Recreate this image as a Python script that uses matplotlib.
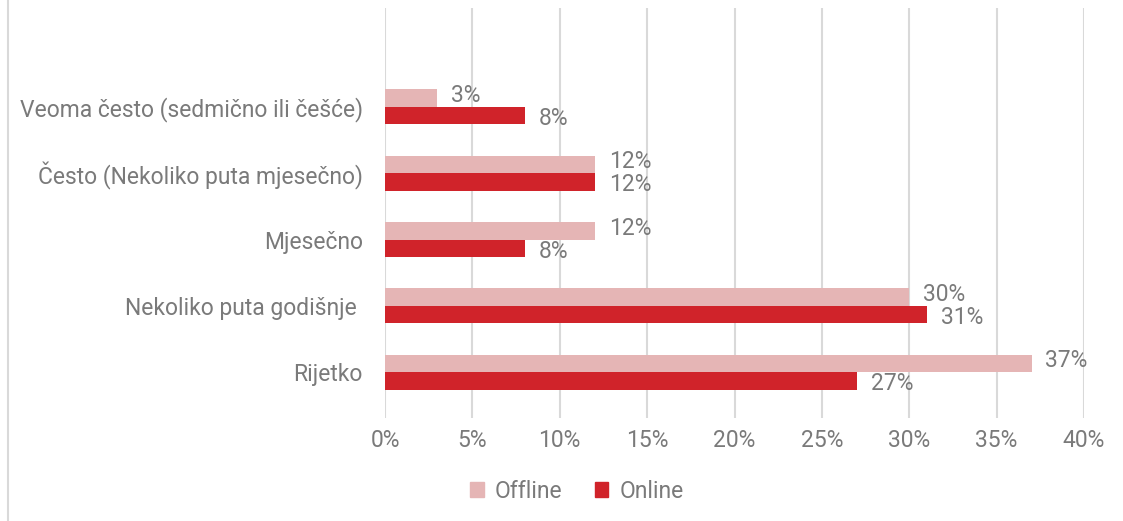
import matplotlib
matplotlib.use("Agg")
import matplotlib.pyplot as plt
from matplotlib.patches import Patch

# Učestalost kupovine: offline vs online
categories = [
    "Veoma često (sedmično ili češće)",
    "Često (Nekoliko puta mjesečno)",
    "Mjesečno",
    "Nekoliko puta godišnje ",
    "Rijetko",
]
offline = [3, 12, 12, 30, 37]
online = [8, 12, 8, 31, 27]
xticks = [0, 5, 10, 15, 20, 25, 30, 35, 40]

OFFLINE_COLOR = "#e5b5b5"
ONLINE_COLOR = "#d0232a"
TEXT_COLOR = "#7a7a7a"
GRID_COLOR = "#d9d9d9"
FS = 16.5

plt.rcParams["font.family"] = ["Roboto", "DejaVu Sans"]

fig = plt.figure(figsize=(11.23, 5.21), dpi=100)
ax = fig.add_axes([385 / 1123, 1 - 418 / 521, (1084 - 385) / 1123, 410 / 521])

bar_h = 0.264
ys = list(range(len(categories)))
ax.barh([y - bar_h / 2 for y in ys], offline, height=bar_h, color=OFFLINE_COLOR, zorder=2)
ax.barh([y + bar_h / 2 for y in ys], online, height=bar_h, color=ONLINE_COLOR, zorder=2)

for y, v in zip(ys, offline):
    ax.annotate(f"{v}%", (v, y - bar_h / 2), xytext=(10, 2), textcoords="offset points",
                va="center", ha="left", fontsize=FS, color=TEXT_COLOR)
for y, v in zip(ys, online):
    ax.annotate(f"{v}%", (v, y + bar_h / 2), xytext=(10, -2), textcoords="offset points",
                va="center", ha="left", fontsize=FS, color=TEXT_COLOR)

ax.set_xlim(0, 40)
ax.set_ylim(4.69, -1.49)
ax.set_xticks(xticks)
ax.set_xticklabels([f"{t}%" for t in xticks])
ax.set_yticks(ys)
ax.set_yticklabels(categories)
ax.tick_params(axis="both", length=0, labelsize=FS, labelcolor=TEXT_COLOR)
ax.tick_params(axis="y", pad=16)
ax.tick_params(axis="x", pad=8)
ax.grid(axis="x", color=GRID_COLOR, linewidth=1.5, zorder=0)
ax.set_axisbelow(True)
for s in ax.spines.values():
    s.set_visible(False)

# tanki okvir lijevo
fig.add_artist(plt.Line2D([7.5 / 1123, 7.5 / 1123], [0, 1], transform=fig.transFigure,
                          color="#d9d9d9", linewidth=1.5))

handles = [Patch(color=OFFLINE_COLOR, label="Offline"), Patch(color=ONLINE_COLOR, label="Online")]
leg = fig.legend(handles=handles, loc="center", bbox_to_anchor=(577 / 1123, 1 - 491 / 521),
                 ncol=2, frameon=False, fontsize=FS, handlelength=0.6, handleheight=0.6,
                 handletextpad=0.5, columnspacing=1.4)
for t in leg.get_texts():
    t.set_color(TEXT_COLOR)

fig.savefig("out.png", dpi=100)
